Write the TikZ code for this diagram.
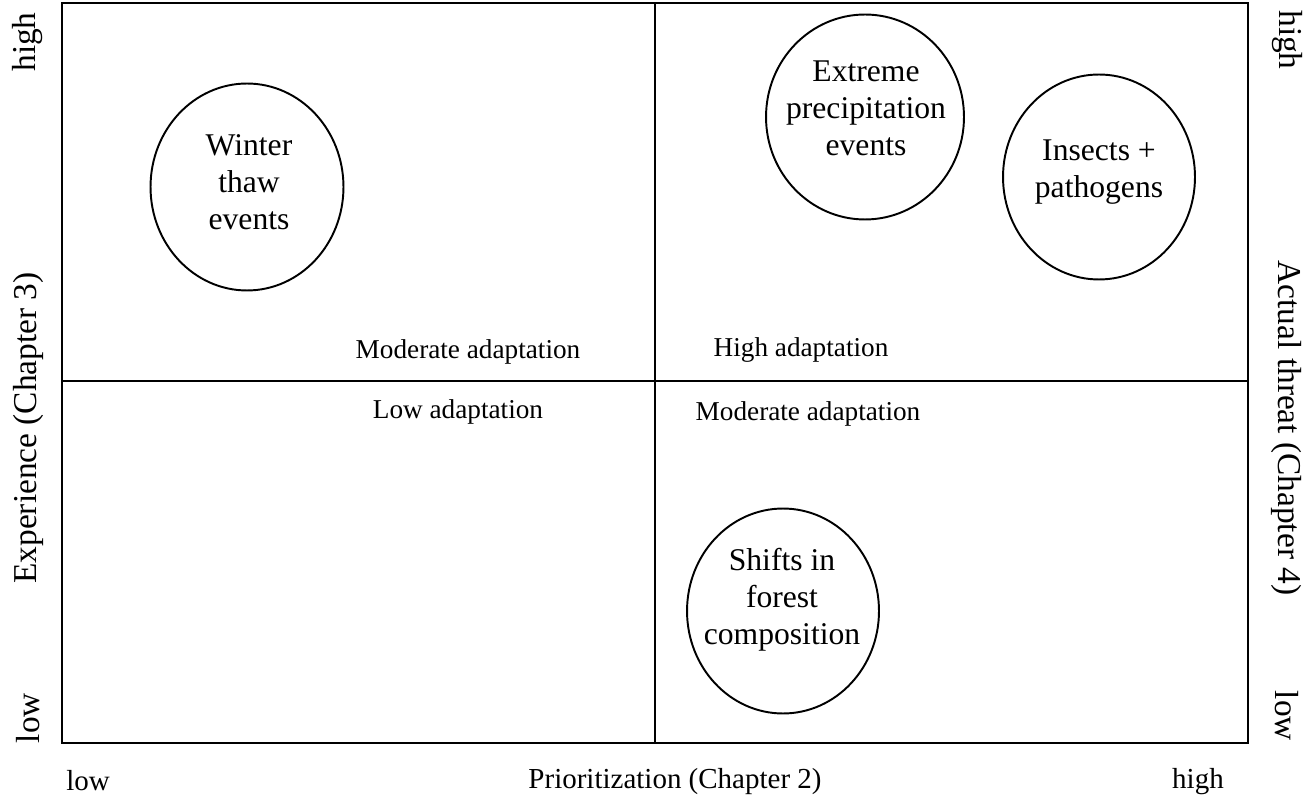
\documentclass[tikz,border=0pt]{standalone}
\usepackage{fontspec}
\setmainfont{Liberation Serif}
\usetikzlibrary{positioning,shapes.geometric}

\begin{document}
\begin{tikzpicture}[
  x=0.02cm, y=-0.02cm,
  risk/.style={draw, ellipse, line width=1.1pt, inner sep=0pt},
  risktext/.style={align=center, font=\fontsize{18}{21}\selectfont},
  quad/.style={font=\fontsize{15.5}{18}\selectfont},
  axis/.style={font=\fontsize{16.5}{19}\selectfont},
  sideaxis/.style={font=\fontsize{19}{22}\selectfont}
]
  \useasboundingbox (0,0) rectangle (1314,803);
  % frame and dividers
  \coordinate (tl) at (62,3);
  \coordinate (br) at (1248,743);
  \coordinate (vtop) at (655,3);
  \coordinate (vbot) at (655,743);
  \coordinate (hleft) at (62,381);
  \coordinate (hright) at (1248,381);
  \draw[line width=1.5pt] (tl) rectangle (br);
  \draw[line width=0.6pt] (vtop) -- (vbot);
  \draw[line width=0.6pt] (hleft) -- (hright);

  % quadrant labels
  \node[quad] (modtl) at (468,352) {Moderate adaptation};
  \node[quad] (hightr) at (801,350) {High adaptation};
  \node[quad] (lowbl) at (458,412) {Low adaptation};
  \node[quad] (modbr) at (808,414) {Moderate adaptation};

  % risks
  \node[risk, minimum width=3.86cm, minimum height=4.14cm] (thaw) at (247,187) {};
  \node[risktext] (thawtxt) at (249,182) {Winter\\thaw\\events};
  \node[risk, minimum width=3.96cm, minimum height=4.1cm] (precip) at (865,117) {};
  \node[risktext] (preciptxt) at (866,108) {Extreme\\precipitation\\events};
  \node[risk, minimum width=3.84cm, minimum height=4.1cm] (insects) at (1099,177) {};
  \node[risktext] (insectstxt) at (1099,172) {Insects +\\pathogens};
  \node[risk, minimum width=3.84cm, minimum height=4.1cm] (shifts) at (783,611) {};
  \node[risktext] (shiftstxt) at (782,600) {Shifts in\\forest\\composition};

  % axes
  \node[axis] (xlow) at (88,781) {low};
  \node[axis] (xlab) at (675,782) {Prioritization (Chapter 2)};
  \node[axis] (xhigh) at (1198,782) {high};
  \node[sideaxis, rotate=90] (ylhigh) at (28,42) {high};
  \node[sideaxis, rotate=90] (yllab) at (28,428) {Experience (Chapter 3)};
  \node[sideaxis, rotate=90] (yllow) at (28,718) {low};
  \node[sideaxis, rotate=-90] (yrhigh) at (1287,40) {high};
  \node[sideaxis, rotate=-90] (yrlab) at (1287,428) {Actual threat (Chapter 4)};
  \node[sideaxis, rotate=-90] (yrlow) at (1287,716) {low};
\end{tikzpicture}
\end{document}
